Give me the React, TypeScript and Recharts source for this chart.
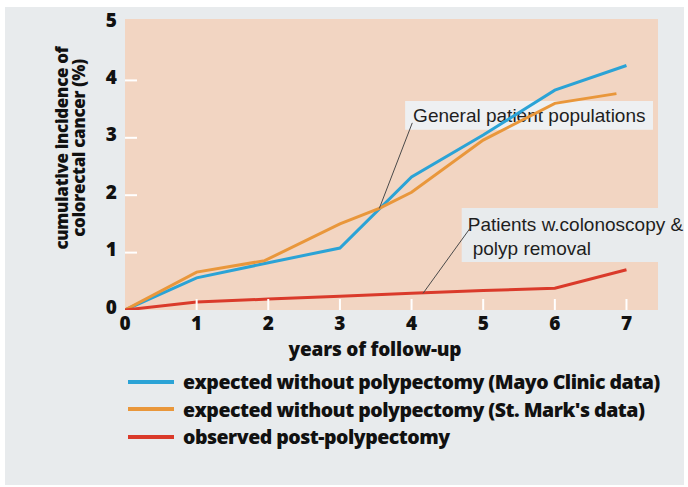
import React from 'react';
import { LineChart, Line, XAxis, YAxis, ReferenceArea, ReferenceLine, Legend } from 'recharts';

// axis ticks
const yearTicks = [0, 1, 2, 3, 4, 5, 6, 7];
const incidenceTicks = [0, 1, 2, 3, 4, 5];

// expected without polypectomy (Mayo Clinic data)
const mayoYears = [0, 1, 1.95, 3, 4, 5, 6, 7];
const mayoIncidence = [0, 0.56, 0.81, 1.08, 2.32, 3.05, 3.83, 4.26];

// expected without polypectomy (St. Mark's data)
const stMarkYears = [0, 1, 1.95, 3, 3.55, 4, 5, 6, 6.86];
const stMarkIncidence = [0, 0.66, 0.86, 1.5, 1.77, 2.05, 2.96, 3.6, 3.77];

// observed post-polypectomy
const observedYears = [0, 1, 2, 3, 4, 5, 6, 7];
const observedIncidence = [0, 0.14, 0.19, 0.24, 0.29, 0.34, 0.38, 0.7];

const seriesNames = [
  'expected without polypectomy (Mayo Clinic data)',
  "expected without polypectomy (St. Mark's data)",
  'observed post-polypectomy',
];

const toPoints = (xs: number[], ys: number[]) => xs.map((x, i) => ({ year: x, value: ys[i] }));

const BLUE = '#2ba3d6';
const ORANGE = '#e9973b';
const RED = '#da3a2a';
const PEACH = '#f2d5c2';
const PANEL = '#e8ebed';
const BOX = '#eef0f2';
const BOLD = '"Open Sans", Lato, sans-serif';
const PLAIN = '"Liberation Sans", Arial, sans-serif';

const XTick = (props: any) => {
  const { x, y, payload } = props;
  return (
    <g>
      {payload.value !== 0 && (
        <line x1={x} x2={x} y1={y} y2={y - 11} stroke="#fff" strokeWidth={2} />
      )}
      <text x={x} y={y + 20} textAnchor="middle" fontFamily={BOLD} fontWeight={800} fontSize={19} fill="#111">
        {payload.value}
      </text>
    </g>
  );
};

const YTick = (props: any) => {
  const { x, y, payload } = props;
  return (
    <g>
      {payload.value !== 0 && payload.value !== 5 && (
        <line x1={x} x2={x + 12} y1={y} y2={y} stroke="#fff" strokeWidth={2} />
      )}
      <text x={x - 8} y={y + 3.5} textAnchor="end" fontFamily={BOLD} fontWeight={800} fontSize={19} fill="#111">
        {payload.value}
      </text>
    </g>
  );
};

const renderYLabel = () => (
  <text transform="translate(68,148) rotate(-90)" textAnchor="middle" fontFamily={BOLD} fontWeight={800} fontSize={17} letterSpacing={-0.3} fill="#111">
    <tspan x={0} y={0}>cumulative incidence of</tspan>
    <tspan x={0} y={16.5}>colorectal cancer (%)</tspan>
  </text>
);

const renderXLabel = () => (
  <text x={375} y={356} textAnchor="middle" fontFamily={BOLD} fontWeight={800} fontSize={19} letterSpacing={-0.2} fill="#111">
    years of follow-up
  </text>
);

const renderGeneralText = (props: any) => {
  const { x, y } = props.viewBox;
  return (
    <text x={x + 8} y={y + 21} fontFamily={PLAIN} fontSize={19} fill="#1e1e1e">
      General patient populations
    </text>
  );
};

const renderPatientsText = (props: any) => {
  const { x, y } = props.viewBox;
  return (
    <text fontFamily={PLAIN} fontSize={19} fill="#1e1e1e">
      <tspan x={x + 6} y={y + 23}>Patients w.colonoscopy &amp;</tspan>
      <tspan x={x + 11} y={y + 47}>polyp removal</tspan>
    </text>
  );
};

const renderLegend = () => {
  const colors = [BLUE, ORANGE, RED];
  return (
    <div style={{ fontFamily: BOLD, fontWeight: 800, fontSize: 19.5, color: '#111', letterSpacing: -0.5 }}>
      {seriesNames.map((name, i) => (
        <div key={name} style={{ display: 'flex', alignItems: 'center', height: 27.5, whiteSpace: 'nowrap' }}>
          <span style={{ display: 'inline-block', width: 46, height: 4, background: colors[i], marginRight: 9 }} />
          {name}
        </div>
      ))}
    </div>
  );
};

export default function App() {
  return (
    <div style={{ position: 'absolute', left: 0, top: 0, width: 688, height: 487, background: '#fff', overflow: 'hidden' }}>
      <div style={{ position: 'absolute', left: 5, top: 7, width: 679, height: 478, background: PANEL }} />
      <div style={{ position: 'absolute', left: 0, top: 0 }}>
        <LineChart width={688} height={487} margin={{ top: 19, right: 30, bottom: 147, left: 0 }}>
          <XAxis
            type="number"
            dataKey="year"
            domain={[0, 7.44]}
            ticks={yearTicks}
            allowDataOverflow
            axisLine={false}
            tickLine={false}
            tickSize={0}
            tickMargin={0}
            height={30}
            tick={<XTick />}
            label={renderXLabel}
          />
          <YAxis
            type="number"
            domain={[0, 5.07]}
            ticks={incidenceTicks}
            allowDataOverflow
            axisLine={false}
            tickLine={false}
            tickSize={0}
            tickMargin={0}
            width={125}
            tick={<YTick />}
            label={renderYLabel}
          />
          <ReferenceArea x1={0} x2={7.44} y1={0} y2={5.07} fill={PEACH} fillOpacity={1} stroke="none" ifOverflow="visible" />
          <Line data={toPoints(mayoYears, mayoIncidence)} dataKey="value" name={seriesNames[0]} stroke={BLUE} strokeWidth={3} dot={false} activeDot={false} isAnimationActive={false} />
          <Line data={toPoints(stMarkYears, stMarkIncidence)} dataKey="value" name={seriesNames[1]} stroke={ORANGE} strokeWidth={3} dot={false} activeDot={false} isAnimationActive={false} />
          <Line data={toPoints(observedYears, observedIncidence)} dataKey="value" name={seriesNames[2]} stroke={RED} strokeWidth={3} dot={false} activeDot={false} isAnimationActive={false} />
          <ReferenceArea x1={3.91} x2={7.37} y1={3.14} y2={3.64} fill={BOX} fillOpacity={1} stroke="none" ifOverflow="visible" label={renderGeneralText} />
          <ReferenceArea x1={4.7} x2={7.44} y1={0.836} y2={1.777} fill={PANEL} fillOpacity={1} stroke="none" ifOverflow="visible" label={renderPatientsText} />
          <ReferenceLine segment={[{ x: 4.01, y: 3.26 }, { x: 3.55, y: 1.77 }]} stroke="#4a4a4a" strokeWidth={1} ifOverflow="visible" />
          <ReferenceLine segment={[{ x: 4.82, y: 1.43 }, { x: 4.16, y: 0.29 }]} stroke="#4a4a4a" strokeWidth={1} ifOverflow="visible" />
          <Legend
            layout="horizontal"
            verticalAlign="middle"
            align="center"
            content={renderLegend}
            wrapperStyle={{ left: 128, top: 368, width: 560 }}
          />
        </LineChart>
      </div>
    </div>
  );
}
